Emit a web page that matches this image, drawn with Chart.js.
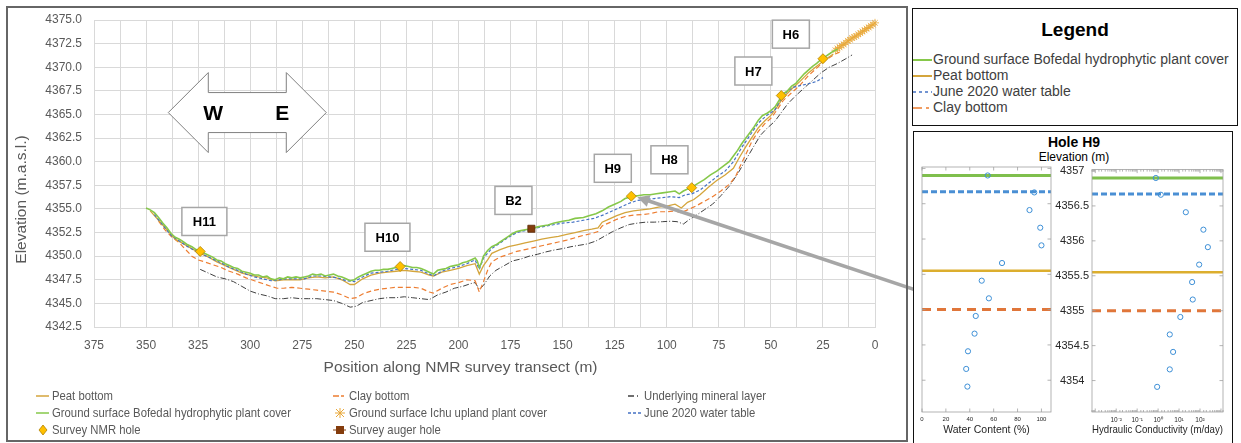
<!DOCTYPE html>
<html>
<head>
<meta charset="utf-8">
<script src="https://cdn.jsdelivr.net/npm/chart.js@4.4.1/dist/chart.umd.min.js"></script>
<style>
  body { margin:0; width:1241px; height:443px; background:#fff; position:relative; overflow:hidden;
         font-family:'Liberation Sans', Arial, sans-serif; }
  canvas { position:absolute; }
  #mainFrame { position:absolute; left:6px; top:6px; width:902px; height:436px; border:2px solid #666; box-sizing:border-box; }
  .leg { position:absolute; font-size:13px; color:#595959; white-space:nowrap; line-height:14px; }
  .leg span { display:inline-block; transform:scaleX(0.87); transform-origin:left center; }
  .leg svg { position:absolute; left:-16px; top:2px; }
  #legendBox { position:absolute; left:912px; top:8px; width:326px; height:118px; border:1.5px solid #111; box-sizing:border-box; background:#fff; }
  #legendBox .title { position:absolute; left:0; width:100%; top:10px; text-align:center; font-weight:bold; font-size:19px; color:#000; }
  #legendBox .item { position:absolute; left:20px; font-size:14px; color:#404040; white-space:nowrap; line-height:15px; }
  #legendBox .item svg { position:absolute; left:-20px; top:4px; }
  #h9Box { position:absolute; left:913px; top:131px; width:320px; height:330px; border:1.5px solid #111; box-sizing:border-box; background:#fff; }
  #h9Title { position:absolute; left:1074px; top:134px; transform:translateX(-50%); font-weight:bold; font-size:14px; color:#000; }
  #h9Sub { position:absolute; left:1074px; top:150px; transform:translateX(-50%); font-size:12px; color:#000; }
</style>
</head>
<body>
<canvas id="mainChart" width="916" height="443" style="left:0;top:0"></canvas>
<div id="mainFrame"></div>

<div class="leg" style="left:52px;top:389px"><svg width="14" height="10"><line x1="0" y1="5" x2="13" y2="5" stroke="#d4a53c" stroke-width="1.5"/></svg><span>Peat bottom</span></div>
<div class="leg" style="left:349px;top:389px"><svg width="14" height="10"><line x1="0" y1="5" x2="13" y2="5" stroke="#ed7d31" stroke-width="1.5" stroke-dasharray="6,2,3,2"/></svg><span>Clay bottom</span></div>
<div class="leg" style="left:644px;top:389px"><svg width="14" height="10"><line x1="0" y1="5" x2="13" y2="5" stroke="#404040" stroke-width="1.5" stroke-dasharray="6,3,1,3"/></svg><span>Underlying mineral layer</span></div>
<div class="leg" style="left:52px;top:406px"><svg width="14" height="10"><line x1="0" y1="5" x2="13" y2="5" stroke="#86c84a" stroke-width="1.5"/></svg><span>Ground surface Bofedal hydrophytic plant cover</span></div>
<div class="leg" style="left:349px;top:406px"><svg width="14" height="10"><g stroke="#e8a83a" stroke-width="1"><line x1="3" y1="1" x2="11" y2="9"/><line x1="11" y1="1" x2="3" y2="9"/><line x1="7" y1="0" x2="7" y2="10"/><line x1="2" y1="5" x2="12" y2="5"/></g></svg><span>Ground surface Ichu upland plant cover</span></div>
<div class="leg" style="left:644px;top:406px"><svg width="14" height="10"><line x1="0" y1="5" x2="13" y2="5" stroke="#4472c4" stroke-width="1.5" stroke-dasharray="3,2"/></svg><span>June 2020 water table</span></div>
<div class="leg" style="left:52px;top:423px"><svg width="14" height="10"><polygon points="7,0 11,5 7,10 3,5" fill="#ffc000" stroke="#b08000" stroke-width="0.8"/></svg><span>Survey NMR hole</span></div>
<div class="leg" style="left:349px;top:423px"><svg width="14" height="10"><line x1="0" y1="5" x2="13" y2="5" stroke="#843c0c" stroke-width="1"/><rect x="3" y="1" width="8" height="8" fill="#843c0c"/></svg><span>Survey auger hole</span></div>

<div id="legendBox">
  <div class="title">Legend</div>
  <div class="item" style="top:43px"><svg width="20" height="8"><line x1="0" y1="4" x2="19" y2="4" stroke="#86c84a" stroke-width="2"/></svg>Ground surface Bofedal hydrophytic plant cover</div>
  <div class="item" style="top:59px"><svg width="20" height="8"><line x1="0" y1="4" x2="19" y2="4" stroke="#d4a53c" stroke-width="2"/></svg>Peat bottom</div>
  <div class="item" style="top:75px"><svg width="20" height="8"><line x1="0" y1="4" x2="19" y2="4" stroke="#4472c4" stroke-width="1.5" stroke-dasharray="3,3"/></svg>June 2020 water table</div>
  <div class="item" style="top:91px"><svg width="20" height="8"><line x1="0" y1="4" x2="19" y2="4" stroke="#ed7d31" stroke-width="1.5" stroke-dasharray="9,4,3,4"/></svg>Clay bottom</div>
</div>

<div id="h9Box"></div>
<div id="h9Title">Hole H9</div>
<div id="h9Sub">Elevation (m)</div>
<canvas id="wcChart" width="145" height="283" style="left:914px;top:160px"></canvas>
<canvas id="kChart" width="180" height="283" style="left:1055px;top:160px"></canvas>

<script>
// ---- main transect: position along NMR transect (m) and elevation (m.a.s.l.) ----
const groundPos = [350,348,346,344,342,340,338,336,334,332,330,328,326,324,322,320,318,316,314,312,310,308,306,304,302,300,298,296,294,292,290,288,286,284,282,280,278,276,274,272,270,268,266,264,262,260,258,256,254,252,250,248,246,244,242,240,238,236,234,232,230,228,226,224,222,220,218,216,214,212,210,208,206,204,202,200,198,196,194,192,191,190,189,188,186,184,182,180,178,176,174,172,170,168,165,162,160,157,154,150,147,144,140,137,134,131,128,125,122,120,117,114,111,108,105,102,99,96,94,92,90,88,85,82,79,76,73,70,68,66,64,62,60,58,56,54,52,50,48,46,44,42,40,38,36,34,32,30,28,26,24,22,20,18];
const groundElev = [4355.1,4354.9,4354.6,4354.1,4353.5,4353.0,4352.4,4352.0,4351.8,4351.5,4351.2,4351.0,4350.7,4350.5,4350.3,4350.1,4349.9,4349.6,4349.5,4349.2,4349.0,4348.8,4348.7,4348.4,4348.3,4348.2,4348.0,4348.0,4347.8,4347.9,4347.6,4347.5,4347.7,4347.6,4347.8,4347.7,4347.8,4347.7,4347.8,4347.9,4348.1,4348.0,4348.1,4347.9,4348.0,4348.1,4347.9,4347.8,4347.6,4347.4,4347.5,4347.8,4348.0,4348.2,4348.4,4348.5,4348.5,4348.6,4348.6,4348.7,4348.8,4348.9,4349.0,4348.9,4348.8,4348.8,4348.7,4348.5,4348.3,4348.1,4348.5,4348.6,4348.7,4348.9,4349.0,4349.1,4349.3,4349.4,4349.6,4349.8,4349.5,4348.8,4349.3,4350.0,4350.6,4351.0,4351.2,4351.5,4351.8,4352.1,4352.4,4352.6,4352.7,4352.8,4352.9,4353.1,4353.2,4353.3,4353.5,4353.7,4353.8,4354.0,4354.1,4354.3,4354.5,4354.8,4355.2,4355.5,4355.8,4356.1,4356.3,4356.4,4356.5,4356.5,4356.6,4356.7,4356.8,4356.9,4356.6,4356.9,4357.1,4357.3,4357.7,4358.1,4358.6,4359.0,4359.5,4360.0,4360.6,4361.2,4361.9,4362.5,4363.1,4363.7,4364.4,4364.9,4365.1,4365.4,4365.8,4366.5,4367.2,4367.5,4368.0,4368.3,4368.8,4369.3,4369.7,4370.1,4370.4,4370.8,4371.1,4371.4,4371.7,4371.9];

const ichuPos = [19,18,17,16,15,14,13,12,11,10,9,8,7,6,5,4,3,2,1,0];
const ichuElev = [4371.8,4372.0,4372.1,4372.3,4372.4,4372.6,4372.8,4372.9,4373.1,4373.2,4373.3,4373.5,4373.6,4373.8,4373.9,4374.1,4374.2,4374.4,4374.5,4374.7];

const waterPos = [346,342,338,334,330,326,322,318,314,310,306,302,298,294,290,286,282,278,274,270,266,262,258,254,250,246,242,238,234,230,226,222,218,214,212,208,204,200,196,192,190,188,184,180,176,172,168,165,160,155,150,145,140,135,130,126,122,118,114,110,106,102,98,94,91,88,84,80,76,72,68,64,60,56,52,48,45,42,39,35,31,28,25];
const waterElev = [4354.4,4353.3,4352.2,4351.6,4351.0,4350.5,4350.1,4349.7,4349.3,4348.8,4348.5,4348.1,4347.8,4347.6,4347.4,4347.5,4347.6,4347.6,4347.6,4347.9,4347.9,4347.8,4347.7,4347.4,4347.3,4347.8,4348.2,4348.3,4348.4,4348.6,4348.7,4348.6,4348.5,4348.1,4347.9,4348.4,4348.7,4348.9,4349.2,4349.6,4348.6,4349.8,4350.8,4351.4,4352.0,4352.5,4352.7,4352.85,4353.1,4353.3,4353.5,4353.6,4353.8,4354.0,4354.4,4354.8,4355.2,4355.6,4355.9,4356.0,4356.1,4356.2,4356.3,4356.2,4356.5,4356.6,4357.0,4357.7,4358.4,4359.0,4360.0,4361.5,4362.8,4364.1,4364.9,4365.5,4366.7,4367.5,4367.9,4368.1,4368.3,4368.5,4368.9];

const peatPos = [348,344,340,336,332,328,324,320,316,312,308,304,300,296,292,288,284,280,276,272,268,264,260,256,252,250,246,242,238,234,230,226,222,218,214,212,208,204,200,196,192,190,188,186,184,180,176,172,168,164,160,156,152,148,144,140,136,133,131,128,124,120,116,112,108,104,100,96,93,90,87,84,80,76,72,68,65,62,59,56,53,50,47,44,40,36,32,28,24,20];
const peatElev = [4354.8,4353.8,4352.8,4351.8,4351.3,4350.8,4350.3,4349.9,4349.4,4349.0,4348.6,4348.2,4348.0,4347.8,4347.7,4347.4,4347.5,4347.5,4347.5,4347.7,4347.8,4347.7,4347.8,4347.5,4347.0,4347.0,4347.6,4348.0,4348.2,4348.3,4348.4,4348.5,4348.4,4348.3,4348.0,4347.9,4348.3,4348.5,4348.7,4349.0,4349.2,4348.1,4349.0,4349.6,4350.3,4350.7,4351.0,4351.2,4351.4,4351.6,4351.8,4351.95,4352.1,4352.3,4352.5,4352.7,4352.85,4353.0,4353.6,4353.9,4354.3,4354.6,4354.8,4354.9,4355.0,4355.2,4355.3,4355.5,4355.1,4355.7,4356.0,4356.5,4357.3,4358.0,4358.6,4359.3,4360.5,4361.6,4362.6,4363.6,4364.3,4364.9,4365.8,4366.8,4367.7,4368.5,4369.4,4370.1,4370.8,4371.4];

const clayPos = [344,341,338,334,331,328,325,322,318,314,310,306,302,298,294,290,287,284,280,276,272,268,264,260,256,252,249,246,242,238,234,230,226,222,218,214,212,208,204,200,196,192,190,188,186,184,180,176,172,168,164,160,156,152,148,144,140,136,133,131,128,124,120,116,112,108,104,100,96,93,90,86,82,78,74,70,67,65,62,59,56,53,50,47,44,40,36,32,28,24,20,17];
const clayElev = [4353.7,4352.8,4352.1,4351.4,4350.7,4350.0,4349.6,4349.4,4349.1,4348.8,4348.4,4348.1,4347.7,4347.4,4347.1,4346.8,4346.6,4346.6,4346.7,4346.6,4346.5,4346.4,4346.3,4346.2,4345.9,4345.5,4345.6,4346.0,4346.3,4346.5,4346.6,4346.7,4346.7,4346.7,4346.6,4346.2,4346.1,4346.6,4347.0,4347.2,4347.5,4347.4,4346.2,4347.3,4348.5,4349.4,4349.9,4350.2,4350.5,4350.7,4350.9,4351.1,4351.3,4351.5,4351.7,4351.95,4352.2,4352.4,4352.6,4353.2,4353.5,4353.9,4354.2,4354.35,4354.4,4354.5,4354.7,4354.7,4354.8,4354.6,4354.9,4355.3,4355.8,4356.3,4356.9,4357.6,4358.4,4359.4,4360.8,4362.2,4363.2,4364.0,4364.6,4365.5,4366.5,4367.3,4368.1,4369.1,4369.9,4370.7,4371.3,4371.6];

const mineralPos = [324,320,316,312,308,304,300,296,292,288,284,280,276,272,268,264,260,256,252,249,246,242,238,234,230,226,222,218,214,210,206,202,198,194,192,190,188,185,182,178,174,170,166,162,158,154,150,146,142,138,134,130,126,122,118,114,110,106,102,98,95,92,89,86,82,78,74,70,66,62,58,55,52,48,45,42,38,34,30,26,22,18,14,11];
const mineralElev = [4348.6,4348.2,4347.8,4347.6,4347.3,4346.8,4346.3,4346.0,4345.8,4345.5,4345.5,4345.6,4345.5,4345.5,4345.5,4345.4,4345.3,4345.0,4344.6,4344.7,4345.1,4345.3,4345.5,4345.6,4345.6,4345.7,4345.6,4345.5,4345.4,4345.9,4346.2,4346.6,4346.8,4347.1,4347.2,4346.5,4346.9,4347.9,4348.5,4349.0,4349.5,4349.7,4350.0,4350.2,4350.45,4350.65,4350.8,4351.0,4351.15,4351.3,4351.6,4352.1,4352.6,4353.0,4353.35,4353.5,4353.6,4353.6,4353.65,4353.7,4353.65,4353.4,4353.9,4354.3,4354.9,4355.5,4356.4,4357.4,4358.7,4360.2,4361.7,4362.8,4363.5,4364.3,4365.2,4366.1,4367.0,4367.8,4368.6,4369.4,4370.0,4370.4,4370.9,4371.3];

const nmrHoleNames = ['H11','H10','H9','H8','H7','H6'];
const nmrHolePos = [324,228,117,88,45,25];
const nmrHoleElev = [4350.5,4348.9,4356.35,4357.25,4367.0,4370.9];
const augerHoleNames = ['B2'];
const augerHolePos = [165];
const augerHoleElev = [4352.9];

// ---- hole H9 profile ----
const h9Elev = [4356.9,4356.66,4356.41,4356.16,4355.91,4355.66,4355.41,4355.16,4354.91,4354.66,4354.41,4354.16,4353.91];
const waterContent = [55,94,90,99,100,67,50,56,45,44,38.5,37,38];
const hydCond = [0.78,1.35,21,145,237,91,42,45,11.5,3.6,5.2,3.6,0.9];
const h9LevelNames = ['Ground surface','June 2020 water table','Peat bottom','Clay bottom'];
const h9LevelElev = [4356.9,4356.67,4355.55,4355.0];
const elevTicks = [4354,4354.5,4355,4355.5,4356,4356.5,4357];

// label boxes beside the holes (centre in data units)
const holeLabels = [
  {text:'H11', x:322, y:4353.67, w:45},
  {text:'H10', x:234.1, y:4352.0, w:45},
  {text:'B2', x:173.6, y:4355.9, w:37},
  {text:'H9', x:125.9, y:4359.3, w:37},
  {text:'H8', x:98.7, y:4360.2, w:37},
  {text:'H7', x:58.4, y:4369.6, w:37},
  {text:'H6', x:40.4, y:4373.5, w:37}
];

const FONT = "'Liberation Sans', Arial, sans-serif";
Chart.defaults.font.family = FONT;

function xy(xs, ys) { return xs.map((v, i) => ({x: v, y: ys[i]})); }

// ============ main chart decorations ============
const mainDecor = {
  id: 'mainDecor',
  afterDatasetsDraw(chart) {
    const {ctx, scales: {x, y}} = chart;
    ctx.save();
    // W <-> E arrow
    const cx = x.getPixelForValue(301.4), cy = y.getPixelForValue(4365.2);
    const pts = [[-79,0],[-39,-40],[-39,-20],[39,-20],[39,-40],[79,0],[39,40],[39,20],[-39,20],[-39,40]];
    ctx.beginPath();
    pts.forEach((p, i) => i ? ctx.lineTo(cx + p[0], cy + p[1]) : ctx.moveTo(cx + p[0], cy + p[1]));
    ctx.closePath();
    ctx.fillStyle = '#fff'; ctx.fill();
    ctx.strokeStyle = '#808080'; ctx.lineWidth = 1; ctx.stroke();
    ctx.fillStyle = '#000'; ctx.font = 'bold 21px ' + FONT;
    ctx.textAlign = 'center'; ctx.textBaseline = 'middle';
    ctx.fillText('W', cx - 34, cy + 2);
    ctx.fillText('E', cx + 35, cy + 2);

    // grey pointer from H9 to the side panel
    const i9 = nmrHoleNames.indexOf('H9');
    const tx = x.getPixelForValue(nmrHolePos[i9]) + 6, ty = y.getPixelForValue(nmrHoleElev[i9]) + 1;
    const sx = chart.width, sy = 290;
    const ang = Math.atan2(ty - sy, tx - sx);
    ctx.strokeStyle = '#a6a6a6'; ctx.fillStyle = '#a6a6a6'; ctx.lineWidth = 3.5;
    ctx.beginPath();
    ctx.moveTo(sx, sy);
    ctx.lineTo(tx - 9 * Math.cos(ang), ty - 9 * Math.sin(ang));
    ctx.stroke();
    ctx.beginPath();
    ctx.moveTo(tx, ty);
    ctx.lineTo(tx - 12 * Math.cos(ang) + 6 * Math.sin(ang), ty - 12 * Math.sin(ang) - 6 * Math.cos(ang));
    ctx.lineTo(tx - 12 * Math.cos(ang) - 6 * Math.sin(ang), ty - 12 * Math.sin(ang) + 6 * Math.cos(ang));
    ctx.closePath();
    ctx.fill();

    // hole label boxes
    ctx.font = 'bold 13px ' + FONT;
    holeLabels.forEach(b => {
      const px = x.getPixelForValue(b.x), py = y.getPixelForValue(b.y);
      ctx.fillStyle = '#fff';
      ctx.fillRect(px - b.w / 2, py - 14, b.w, 28);
      ctx.strokeStyle = '#a6a6a6'; ctx.lineWidth = 1.5;
      ctx.strokeRect(px - b.w / 2, py - 14, b.w, 28);
      ctx.fillStyle = '#000';
      ctx.fillText(b.text, px, py + 1);
    });
    ctx.restore();
  },
  afterDraw(chart) {
    const {ctx} = chart;
    ctx.save();
    ctx.fillStyle = '#595959';
    ctx.font = '15.5px ' + FONT;
    ctx.textAlign = 'center'; ctx.textBaseline = 'middle';
    ctx.fillText('Position along NMR survey transect (m)', 460.5, 368);
    ctx.translate(22, 199.5);
    ctx.rotate(-Math.PI / 2);
    ctx.fillText('Elevation (m.a.s.l.)', 0, 0);
    ctx.restore();
  }
};

new Chart(document.getElementById('mainChart'), {
  type: 'scatter',
  data: {
    datasets: [
      { label: 'Survey NMR hole', data: xy(nmrHolePos, nmrHoleElev), showLine: false,
        pointStyle: 'rectRot', pointRadius: 5, backgroundColor: '#ffc000', borderColor: '#b08000', borderWidth: 0.8 },
      { label: 'Survey auger hole', data: xy(augerHolePos, augerHoleElev), showLine: false,
        pointStyle: 'rect', pointRadius: 5, backgroundColor: '#843c0c', borderColor: '#5a2a08', borderWidth: 0.8 },
      { label: 'Ground surface Bofedal hydrophytic plant cover', data: xy(groundPos, groundElev), showLine: true,
        borderColor: '#86c84a', borderWidth: 1.6, pointRadius: 0 },
      { label: 'Ground surface Ichu upland plant cover', data: xy(ichuPos, ichuElev), showLine: true,
        borderColor: '#e3a33a', borderWidth: 1, pointStyle: 'star', pointRadius: 4, pointBorderColor: '#e8a83a',
        pointBorderWidth: 0.8, clip: 6 },
      { label: 'June 2020 water table', data: xy(waterPos, waterElev), showLine: true,
        borderColor: '#4472c4', borderWidth: 1.2, borderDash: [3, 2], pointRadius: 0 },
      { label: 'Peat bottom', data: xy(peatPos, peatElev), showLine: true,
        borderColor: '#d4a53c', borderWidth: 1.3, pointRadius: 0 },
      { label: 'Clay bottom', data: xy(clayPos, clayElev), showLine: true,
        borderColor: '#ed7d31', borderWidth: 1.2, borderDash: [5, 3], pointRadius: 0 },
      { label: 'Underlying mineral layer', data: xy(mineralPos, mineralElev), showLine: true,
        borderColor: '#404040', borderWidth: 1, borderDash: [6, 2, 1, 2], pointRadius: 0 }
    ]
  },
  options: {
    responsive: false,
    animation: false,
    layout: { padding: { left: 0, right: 41, top: 20, bottom: 86 } },
    plugins: { legend: { display: false }, tooltip: { enabled: false } },
    scales: {
      x: {
        type: 'linear', reverse: true, min: 0, max: 375,
        afterFit(scale) { scale.height = 30; },
        grid: { color: '#d9d9d9', drawTicks: false },
        border: { color: '#d9d9d9' },
        ticks: {
          stepSize: 12.5, autoSkip: false, maxRotation: 0, padding: 11, color: '#595959',
          font: { size: 12 },
          callback: v => (v % 25 === 0 ? String(v) : '')
        }
      },
      y: {
        min: 4342.5, max: 4375,
        afterFit(scale) { scale.width = 94; },
        grid: { color: '#d9d9d9', drawTicks: false },
        border: { display: false },
        ticks: { stepSize: 2.5, padding: 12, color: '#595959', font: { size: 12 },
          callback: v => v.toFixed(1) }
      }
    }
  },
  plugins: [mainDecor]
});

// ============ hole H9 panels ============
const sup = {'-2': '\u207B\u00B2', '-1': '\u207B\u00B9', '0': '\u2070', '1': '\u00B9', '2': '\u00B2'};
function isPow10(v) { const e = Math.log10(v); return Math.abs(e - Math.round(e)) < 1e-6; }

const boxTicks = {
  id: 'boxTicks',
  afterDraw(chart) {
    const {ctx, chartArea: a, scales: {x, y}} = chart;
    ctx.save();
    ctx.strokeStyle = '#a0a0a0'; ctx.lineWidth = 0.8;
    ctx.strokeRect(a.left, a.top, a.right - a.left, a.bottom - a.top);
    ctx.beginPath();
    x.ticks.forEach(t => {
      if (t.value < x.min || t.value > x.max) return;
      const px = x.getPixelForValue(t.value);
      const len = (x.type === 'logarithmic' && !isPow10(t.value)) ? 2 : 3.5;
      ctx.moveTo(px, a.bottom); ctx.lineTo(px, a.bottom - len);
      ctx.moveTo(px, a.top); ctx.lineTo(px, a.top + len);
    });
    elevTicks.forEach(v => {
      const py = y.getPixelForValue(v);
      ctx.moveTo(a.left, py); ctx.lineTo(a.left + 3.5, py);
      ctx.moveTo(a.right, py); ctx.lineTo(a.right - 3.5, py);
    });
    ctx.stroke();
    ctx.restore();
  }
};

const levelStyle = [
  { borderColor: '#7fbf4d', borderWidth: 3, borderDash: [] },
  { borderColor: '#4a8fd4', borderWidth: 3, borderDash: [6, 3] },
  { borderColor: '#dcae2e', borderWidth: 2.5, borderDash: [] },
  { borderColor: '#e0763a', borderWidth: 3, borderDash: [9, 6] }
];

function levelSets(x0, x1) {
  return h9LevelNames.map((name, i) => Object.assign({
    label: name, data: [{x: x0, y: h9LevelElev[i]}, {x: x1, y: h9LevelElev[i]}],
    showLine: true, pointRadius: 0
  }, levelStyle[i]));
}

const pointSet = xs => ({
  label: 'H9', data: xy(xs, h9Elev), showLine: false, pointRadius: 2.6,
  pointBorderWidth: 1, borderColor: '#3d8fd6', backgroundColor: 'rgba(0,0,0,0)'
});

const yH9 = {
  min: 4353.55, max: 4357.02,
  grid: { display: false, drawTicks: false }, border: { display: false }
};

new Chart(document.getElementById('wcChart'), {
  type: 'scatter',
  data: { datasets: [pointSet(waterContent)].concat(levelSets(0, 108)) },
  options: {
    responsive: false, animation: false,
    layout: { padding: { left: 8, right: 8, top: 7, bottom: 7 } },
    plugins: { legend: { display: false }, tooltip: { enabled: false } },
    scales: {
      x: {
        min: 0, max: 108,
        afterFit(scale) { scale.height = 24; },
        grid: { display: false, drawTicks: false }, border: { display: false },
        ticks: { stepSize: 20, includeBounds: false, padding: 4, color: '#262626', font: { size: 6 }, maxRotation: 0 },
        title: { display: true, text: 'Water Content (%)', color: '#262626', font: { size: 10.5 }, padding: 0 }
      },
      y: Object.assign({ display: false }, yH9)
    }
  },
  plugins: [boxTicks]
});

new Chart(document.getElementById('kChart'), {
  type: 'scatter',
  data: { datasets: [pointSet(hydCond)].concat(levelSets(0.0007, 1250)) },
  options: {
    responsive: false, animation: false,
    layout: { padding: { left: 0, right: 12, top: 7, bottom: 7 } },
    plugins: { legend: { display: false }, tooltip: { enabled: false } },
    scales: {
      x: {
        type: 'logarithmic', min: 0.0007, max: 1250,
        afterFit(scale) { scale.height = 24; },
        grid: { display: false, drawTicks: false }, border: { display: false },
        ticks: {
          autoSkip: false, maxRotation: 0, padding: 4, color: '#262626', font: { size: 6.5 },
          callback: v => {
            if (!isPow10(v)) return '';
            const e = Math.round(Math.log10(v));
            return (e >= -2 && e <= 2) ? '10' + sup[e] : '';
          }
        },
        title: { display: true, text: 'Hydraulic Conductivity (m/day)', color: '#262626', font: { size: 10.5 }, padding: 0 }
      },
      y: Object.assign({
        afterFit(scale) { scale.width = 37; },
        ticks: { stepSize: 0.5, includeBounds: false, padding: 3, crossAlign: 'center',
          color: '#262626', font: { size: 11 }, callback: v => String(v) }
      }, yH9)
    }
  },
  plugins: [boxTicks]
});
</script>
</body>
</html>
